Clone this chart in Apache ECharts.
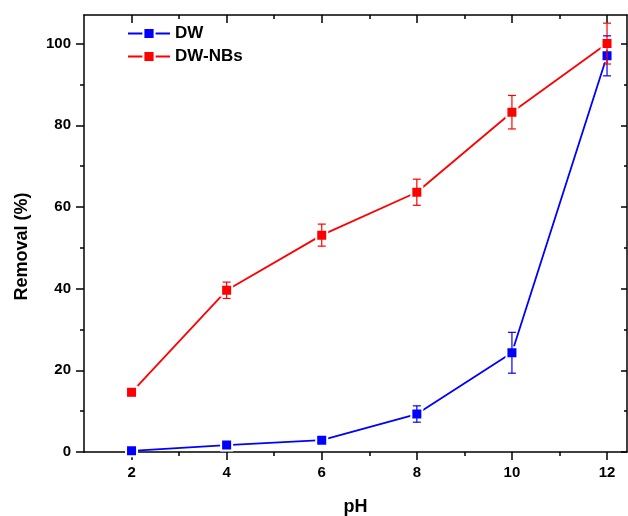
<!DOCTYPE html>
<html>
<head>
<meta charset="utf-8">
<script src="https://cdn.jsdelivr.net/npm/echarts@6/dist/echarts.min.js"></script>
<style>
html,body{margin:0;padding:0;background:#fff;}
#chart{width:628px;height:516px;}
</style>
</head>
<body>
<div id="chart"></div>
<script>
// ---- data ----
var ph = [2, 4, 6, 8, 10, 12];
var dw = [0.3, 1.7, 2.9, 9.3, 24.3, 97.0];
var dwErr = [0.3, 0.4, 0.5, 2.0, 5.0, 4.9];
var dwNbs = [14.6, 39.6, 53.1, 63.6, 83.2, 100.0];
var dwNbsErr = [0.8, 2.0, 2.7, 3.2, 4.1, 5.0];
var xMajor = [2, 4, 6, 8, 10, 12];
var xMinor = [3, 5, 7, 9, 11];
var yMajor = [0, 20, 40, 60, 80, 100];
var yMinor = [10, 30, 50, 70, 90];
var seriesNames = ['DW', 'DW-NBs'];

var FONT = "'Liberation Sans', Arial, sans-serif";
var chart = echarts.init(document.getElementById('chart'));

function pairs(xs, ys) { return xs.map(function (x, i) { return [x, ys[i]]; }); }

function errSeries(vals, errs, color, z) {
  return {
    type: 'custom', z: z, silent: true,
    xAxisIndex: 0, yAxisIndex: 0,
    data: ph.map(function (x, i) { return [x, vals[i] - errs[i], vals[i] + errs[i]]; }),
    renderItem: function (params, api) {
      var x = api.value(0);
      var lo = api.coord([x, api.value(1)]);
      var hi = api.coord([x, api.value(2)]);
      var w = 4;
      var st = { stroke: color, lineWidth: 1.2 };
      return { type: 'group', children: [
        { type: 'line', shape: { x1: lo[0], y1: lo[1], x2: hi[0], y2: hi[1] }, style: st },
        { type: 'line', shape: { x1: lo[0] - w, y1: lo[1], x2: lo[0] + w, y2: lo[1] }, style: st },
        { type: 'line', shape: { x1: hi[0] - w, y1: hi[1], x2: hi[0] + w, y2: hi[1] }, style: st }
      ]};
    }
  };
}

function lineSeries(name, vals, color, z) {
  return {
    name: name, type: 'line', z: z,
    xAxisIndex: 0, yAxisIndex: 0,
    data: pairs(ph, vals),
    symbol: 'rect', symbolSize: 11,
    lineStyle: { color: color, width: 1.8 },
    itemStyle: { color: color, borderColor: '#fff', borderWidth: 2 },
    emphasis: { disabled: true },
    animation: false
  };
}

var axLine = { show: true, onZero: false, lineStyle: { color: '#000', width: 1.5 } };
var noLine = { show: false, onZero: false };
var tickStyle = { color: '#000', width: 1.5 };

function xAx(pos, vals, len, inside, line, extra) {
  var a = {
    type: 'value', position: pos, min: 1, max: 12.42,
    axisLine: line ? axLine : noLine,
    axisTick: { show: true, inside: inside, length: len, customValues: vals, lineStyle: tickStyle },
    axisLabel: { show: false },
    splitLine: { show: false }
  };
  return Object.assign(a, extra || {});
}
function yAx(pos, vals, len, inside, line, extra) {
  var a = {
    type: 'value', position: pos, min: 0, max: 107,
    axisLine: line ? axLine : noLine,
    axisTick: { show: true, inside: inside, length: len, customValues: vals, lineStyle: tickStyle },
    axisLabel: { show: false },
    splitLine: { show: false }
  };
  return Object.assign(a, extra || {});
}

var option = {
  backgroundColor: '#fff',
  animation: false,
  grid: { left: 84, right: 1, top: 15, bottom: 64, containLabel: false, outerBoundsMode: 'none' },
  legend: {
    data: seriesNames, orient: 'vertical', left: 122, top: 20,
    itemWidth: 42, itemHeight: 14, itemGap: 6,
    textStyle: { color: '#000', fontFamily: FONT, fontWeight: 'bold', fontSize: 17, lineHeight: 17 },
    selectedMode: false
  },
  xAxis: [
    xAx('bottom', xMajor, 8, false, true, {
      axisLabel: { show: true, customValues: xMajor, margin: 13, color: '#000', fontFamily: FONT, fontWeight: 'bold', fontSize: 15 },
      name: 'pH', nameLocation: 'middle', nameGap: 46,
      nameTextStyle: { color: '#000', fontFamily: FONT, fontWeight: 'bold', fontSize: 18 }
    }),
    xAx('bottom', xMinor, 4, false, false),
    xAx('top', xMajor, 8, true, true),
    xAx('top', xMinor, 4, true, false)
  ],
  yAxis: [
    yAx('left', yMajor, 8, false, true, {
      axisLabel: { show: true, customValues: yMajor, margin: 13, color: '#000', fontFamily: FONT, fontWeight: 'bold', fontSize: 15 },
      name: 'Removal (%)', nameLocation: 'middle', nameGap: 53, nameRotate: 90,
      nameTextStyle: { color: '#000', fontFamily: FONT, fontWeight: 'bold', fontSize: 18, padding: [0, 26, 0, 0] }
    }),
    yAx('left', yMinor, 4, false, false),
    yAx('right', yMajor, 6, true, true),
    yAx('right', yMinor, 3, true, false)
  ],
  series: [
    lineSeries('DW', dw, '#0000ff', 2),
    errSeries(dw, dwErr, '#0000ff', 3),
    lineSeries('DW-NBs', dwNbs, '#ff0000', 4),
    errSeries(dwNbs, dwNbsErr, '#ff0000', 5)
  ]
};
chart.setOption(option);
</script>
</body>
</html>
